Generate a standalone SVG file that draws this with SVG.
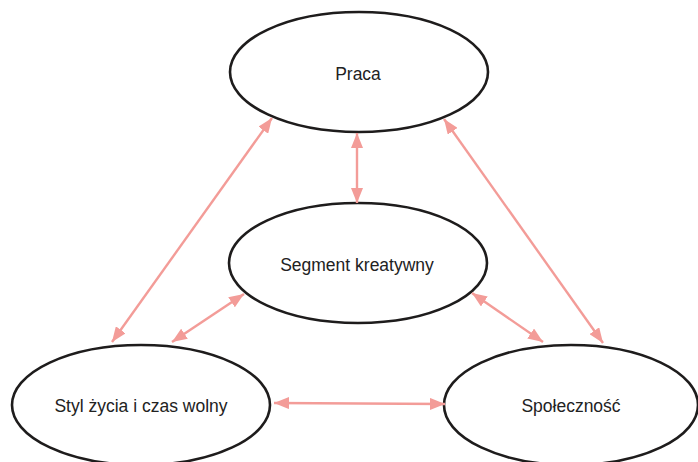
<svg xmlns="http://www.w3.org/2000/svg" width="698" height="462" viewBox="0 0 698 462">
  <style>
    .node ellipse { fill: #ffffff; stroke: #1e1c1c; stroke-width: 2.6; }
    .node text { font-family: "Liberation Sans", Arial, sans-serif; font-size: 17.5px; fill: #222222; text-anchor: middle; dominant-baseline: central; }
    .link { stroke: #f39c98; stroke-width: 2.4; fill: none; marker-start: url(#head); marker-end: url(#head); }
  </style>
  <defs>
    <marker id="head" viewBox="0 0 15 12" refX="15" refY="6" markerWidth="15" markerHeight="12" markerUnits="userSpaceOnUse" orient="auto-start-reverse">
      <path d="M0,0 L15,6 L0,12 z" fill="#f39c98"/>
    </marker>
  </defs>
  <rect width="698" height="462" fill="#ffffff"/>

  <g id="nodes">
    <g id="praca" class="node">
      <ellipse cx="359" cy="72" rx="129" ry="60"/>
      <text x="358" y="74">Praca</text>
    </g>
    <g id="segment" class="node">
      <ellipse cx="358" cy="263" rx="129" ry="60"/>
      <text x="357" y="265">Segment kreatywny</text>
    </g>
    <g id="styl" class="node">
      <ellipse cx="141" cy="405" rx="129" ry="60"/>
      <text x="141" y="406">Styl życia i czas wolny</text>
    </g>
    <g id="spolecznosc" class="node">
      <ellipse cx="571" cy="405" rx="127" ry="60"/>
      <text x="571" y="406">Społeczność</text>
    </g>
  </g>

  <g id="connectors">
    <line class="link" x1="272" y1="118" x2="112" y2="342"/>
    <line class="link" x1="357" y1="133" x2="357" y2="203"/>
    <line class="link" x1="444" y1="119" x2="603" y2="343"/>
    <line class="link" x1="244" y1="294" x2="172" y2="342"/>
    <line class="link" x1="472" y1="293" x2="543" y2="342"/>
    <line class="link" x1="274" y1="403" x2="445" y2="404"/>
  </g>
</svg>
